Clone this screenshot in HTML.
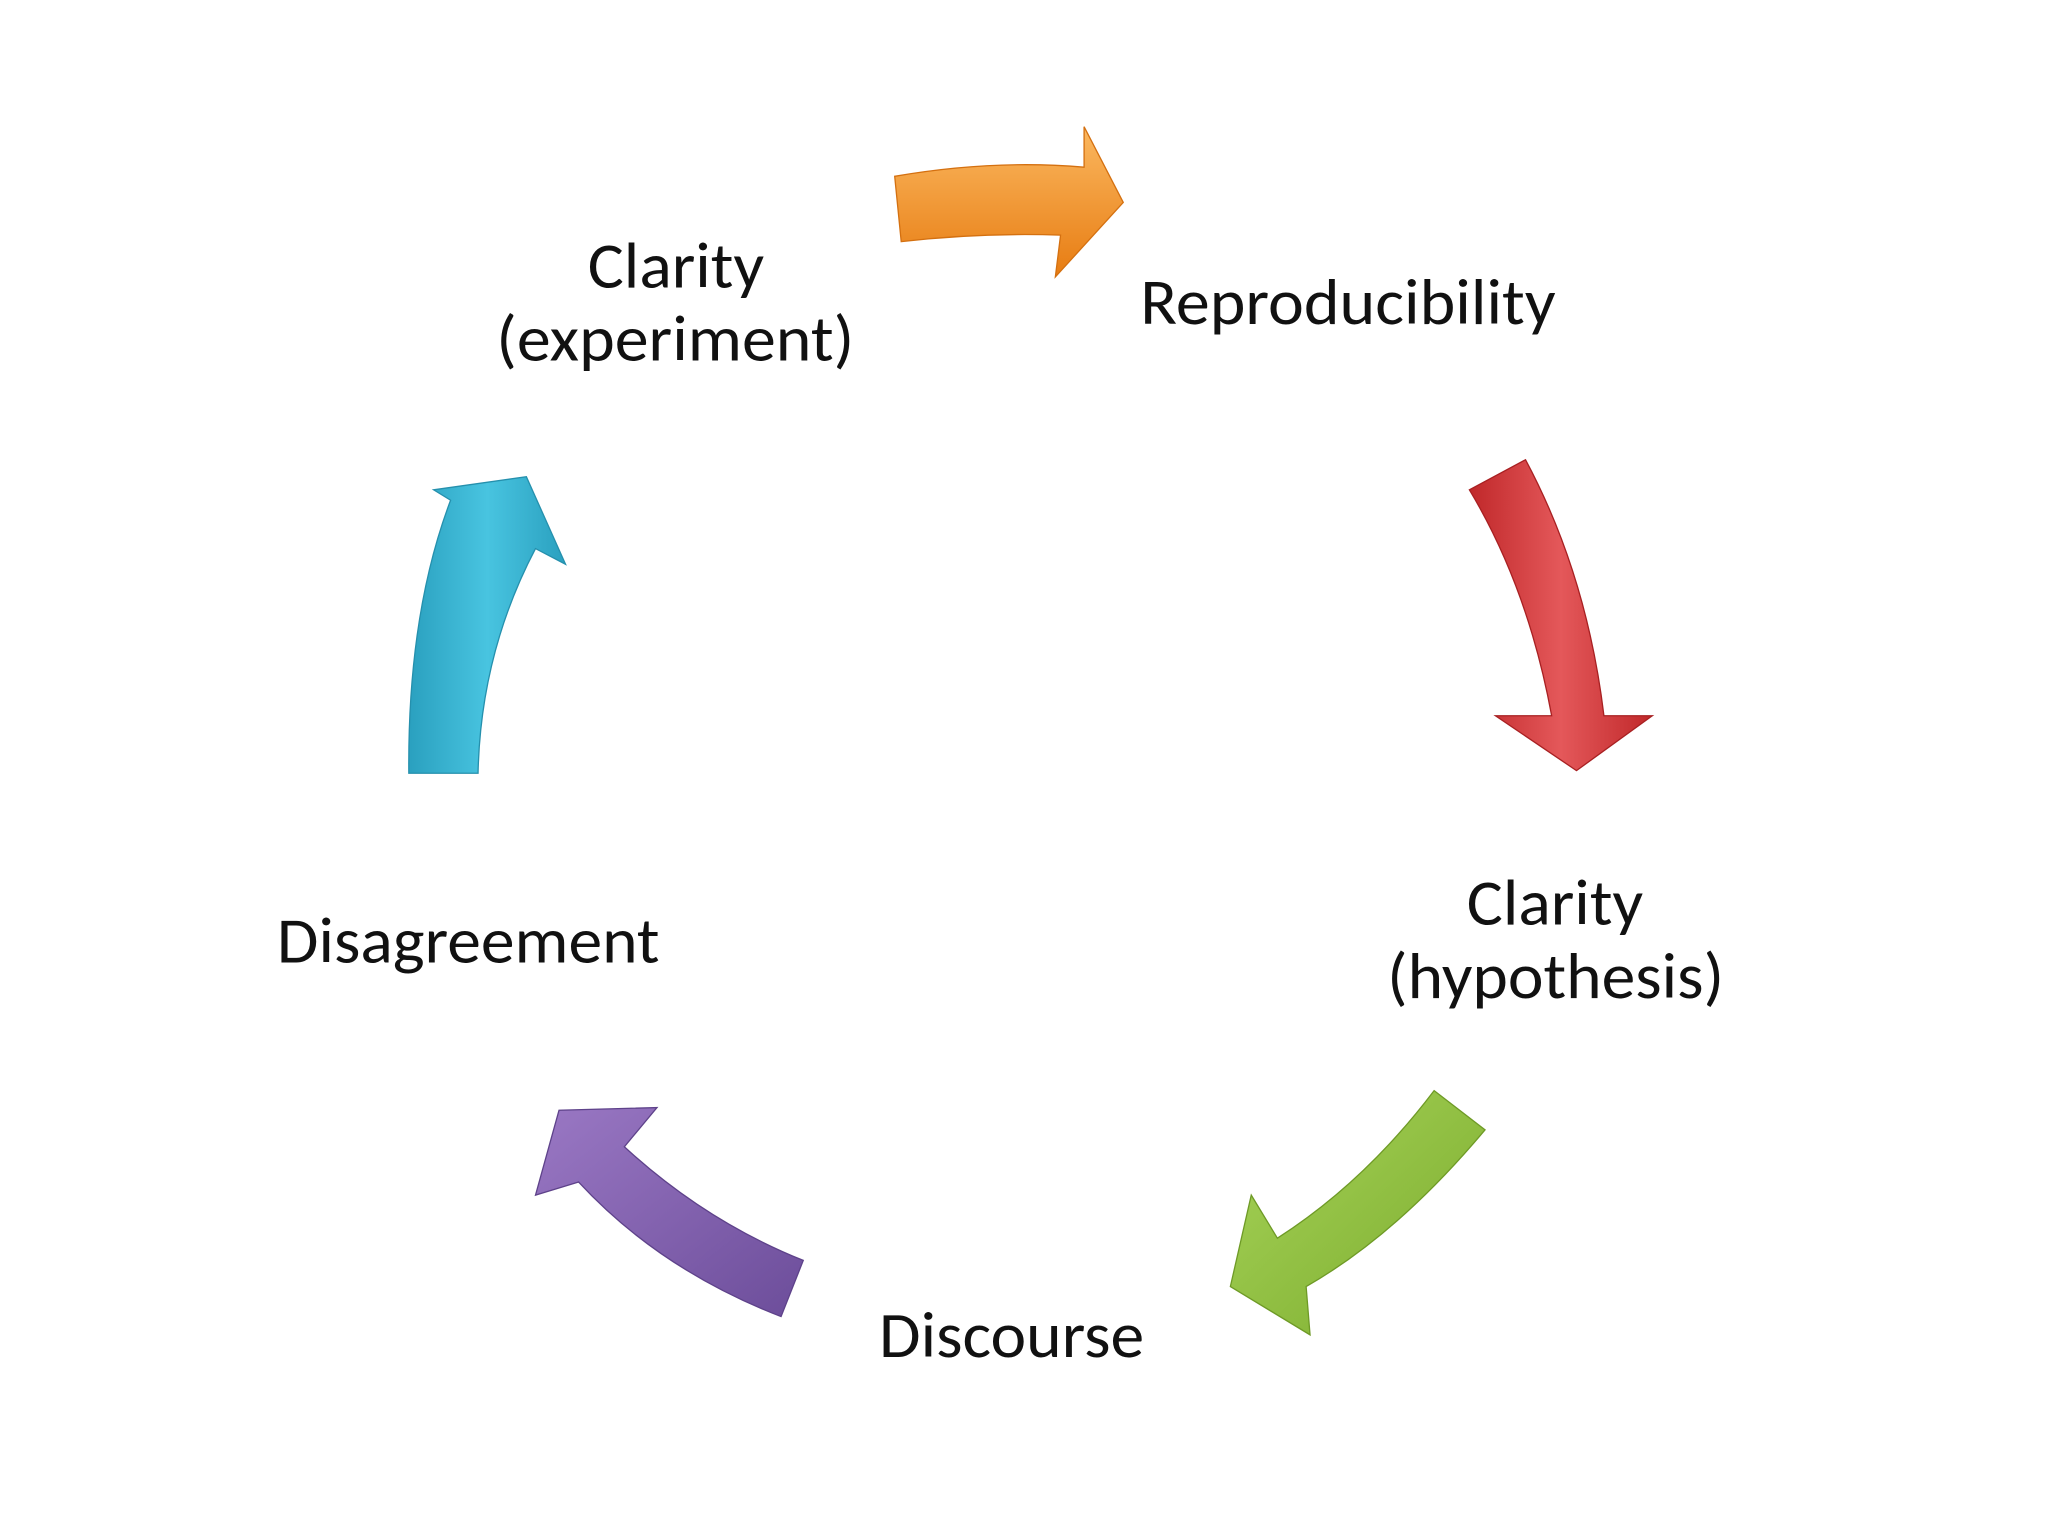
<!DOCTYPE html>
<html><head><meta charset="utf-8"><style>
html,body{margin:0;padding:0;background:#fff;}
svg{display:block;}
text{font-family:"Carlito","Liberation Sans",sans-serif;font-size:50px;fill:#111;}
</style></head><body>
<svg width="2048" height="1536" viewBox="0 0 1568 1176" xmlns="http://www.w3.org/2000/svg">
<defs>
<linearGradient id="go" x1="0" y1="0" x2="0" y2="1"><stop offset="0" stop-color="#fbb860"/><stop offset="1" stop-color="#e77c12"/></linearGradient>
<linearGradient id="gr" x1="0" y1="0" x2="1" y2="0"><stop offset="0" stop-color="#c0282a"/><stop offset="0.5" stop-color="#e4585a"/><stop offset="1" stop-color="#c0282a"/></linearGradient>
<linearGradient id="gg" x1="0" y1="0" x2="1" y2="1"><stop offset="0" stop-color="#a8d45a"/><stop offset="1" stop-color="#7aab2c"/></linearGradient>
<linearGradient id="gp" x1="0" y1="0" x2="1" y2="1"><stop offset="0" stop-color="#9a78c4"/><stop offset="1" stop-color="#6c4d9a"/></linearGradient>
<linearGradient id="gb" x1="0" y1="0" x2="1" y2="0"><stop offset="0" stop-color="#2aa0bf"/><stop offset="0.5" stop-color="#48c4e0"/><stop offset="1" stop-color="#2aa0bf"/></linearGradient>
</defs>
<path d="M685,135 Q760,122 830,128 L830,97 L860,155 L808,212 L812,180 Q750,178 690,185 Z" fill="url(#go)" stroke="#d47010" stroke-width="1"/>
<path d="M1125,375 L1168,352 Q1215,440 1228,548 L1265,548 L1207,590 L1145,548 L1188,548 Q1170,450 1125,375 Z" fill="url(#gr)" stroke="#a82022" stroke-width="1"/>
<path d="M1098,835 L1137,865 Q1070,945 1000,985 L1003,1022 L942,985 L958,915 L978,948 Q1045,905 1098,835 Z" fill="url(#gg)" stroke="#6e9a26" stroke-width="1"/>
<path d="M615,965 Q540,935 478,878 L503,848 L428,850 L410,915 L443,905 Q505,972 598,1008 Z" fill="url(#gp)" stroke="#5e428a" stroke-width="1"/>
<path d="M313,592 Q312,470 345,383 L332,375 L403,365 L433,432 L410,420 Q368,500 366,592 Z" fill="url(#gb)" stroke="#2590ad" stroke-width="1"/>
<text x="450" y="220" textLength="135" lengthAdjust="spacingAndGlyphs">Clarity</text>
<text x="380" y="276" textLength="274" lengthAdjust="spacingAndGlyphs">(experiment)</text>
<text x="873" y="248" textLength="318" lengthAdjust="spacingAndGlyphs">Reproducibility</text>
<text x="1123" y="708" textLength="135" lengthAdjust="spacingAndGlyphs">Clarity</text>
<text x="1062" y="764" textLength="258" lengthAdjust="spacingAndGlyphs">(hypothesis)</text>
<text x="673" y="1039" textLength="203" lengthAdjust="spacingAndGlyphs">Discourse</text>
<text x="212" y="737" textLength="293" lengthAdjust="spacingAndGlyphs">Disagreement</text>
</svg>
</body></html>
